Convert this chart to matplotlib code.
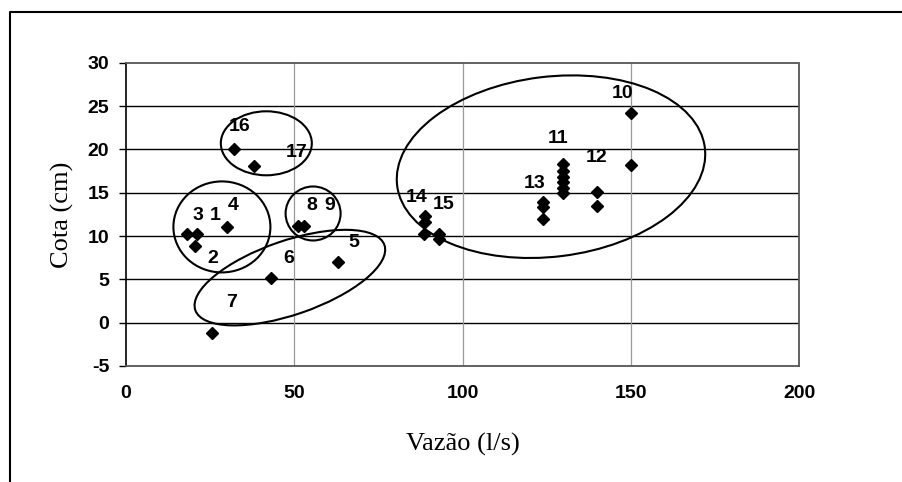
import matplotlib
matplotlib.use("Agg")
import matplotlib.pyplot as plt
from matplotlib.patches import Ellipse
from matplotlib.lines import Line2D
from matplotlib.transforms import ScaledTranslation

plt.rcParams["axes.unicode_minus"] = False

# ---- data ----
vazao = [18, 21, 20.5, 30, 63, 43, 25.5, 51, 53,
         150, 150,
         130, 130, 130, 130, 130, 130,
         140, 140,
         124, 124, 124,
         89, 89, 88.5,
         93, 93,
         32, 38]
cota = [10.2, 10.2, 8.9, 11.0, 7.0, 5.1, -1.2, 11.1, 11.1,
        24.2, 18.2,
        18.3, 17.5, 16.8, 16.2, 15.5, 15.0,
        15.1, 13.5,
        13.9, 13.3, 12.0,
        12.3, 11.6, 10.2,
        10.2, 9.7,
        20.0, 18.1]

label_text = ["1", "2", "3", "4", "5", "6", "7", "8", "9", "10", "11", "12",
              "13", "14", "15", "16", "17"]
label_x = [26.4, 25.8, 21.5, 31.9, 67.8, 48.2, 31.4, 55.2, 60.6, 147.6, 128.5,
           139.7, 121.5, 86.4, 94.3, 33.9, 50.7]
label_y = [12.4, 7.4, 12.4, 13.5, 9.2, 7.4, 2.3, 13.5, 13.5, 26.5, 21.3,
           19.1, 16.1, 14.4, 13.6, 22.6, 19.6]

# group ellipses: center (data), full width/height (pixels), angle (deg)
ell_cx = [41.7, 28.5, 55.6, 48.7, 126.3]
ell_cy = [20.7, 11.05, 12.6, 5.2, 18.0]
ell_w = [91, 97, 55, 200, 310]
ell_h = [64, 91, 54, 74, 180]
ell_ang = [0, 0, 0, 19, 7]

x_ticks = [0, 50, 100, 150, 200]
y_ticks = [-5, 0, 5, 10, 15, 20, 25, 30]

DPI = 100
fig = plt.figure(figsize=(9.02, 4.82), dpi=DPI)
ax = fig.add_axes([126 / 902, 1 - 366 / 482, (799 - 126) / 902, (366 - 62.7) / 482])

ax.set_xlim(0, 200)
ax.set_ylim(-5, 30)

# grid lines
for yv in y_ticks[1:-1]:
    ax.axhline(yv, color="black", lw=1.0, zorder=1)
for xv in x_ticks[1:-1]:
    ax.axvline(xv, color="#999999", lw=0.9, zorder=1)

# spines
for s in ["top", "right", "bottom"]:
    ax.spines[s].set_linestyle((0, (1, 1)))
    ax.spines[s].set_color("#555555")
    ax.spines[s].set_linewidth(1.3)
ax.spines["left"].set_color("black")
ax.spines["left"].set_linewidth(1.2)

ax.plot(vazao, cota, linestyle="none", marker="D", color="black",
        markersize=6, zorder=5)

for t, lx, ly in zip(label_text, label_x, label_y):
    ax.text(lx, ly, t, ha="center", va="center", fontsize=14,
            fontweight="bold", family="Liberation Sans", zorder=6)

for cx, cy, w, h, a in zip(ell_cx, ell_cy, ell_w, ell_h, ell_ang):
    tr = fig.dpi_scale_trans + ScaledTranslation(cx, cy, ax.transData)
    e = Ellipse((0, 0), w / DPI, h / DPI, angle=a, transform=tr,
                fill=False, edgecolor="black", lw=1.5, zorder=4)
    ax.add_patch(e)

ax.set_xticks(x_ticks)
ax.set_yticks(y_ticks)
ax.tick_params(axis="x", length=0, pad=14)
ax.tick_params(axis="y", length=5, width=1, pad=7, direction="out")
for lab in ax.get_xticklabels() + ax.get_yticklabels():
    lab.set_fontfamily("Liberation Sans")
    lab.set_fontweight("bold")
    lab.set_fontsize(14)

ax.set_xlabel("Vazão (l/s)", family="Liberation Serif", fontsize=19, labelpad=22)
ax.set_ylabel("Cota (cm)", family="Liberation Serif", fontsize=19, labelpad=10)

# outer frame (left and top edges)
fig.add_artist(Line2D([10 / 902, 10 / 902, 1.0], [0.0, 1 - 12 / 482, 1 - 12 / 482],
                      transform=fig.transFigure, color="black", lw=1.5))

fig.savefig("out.png", dpi=DPI)
